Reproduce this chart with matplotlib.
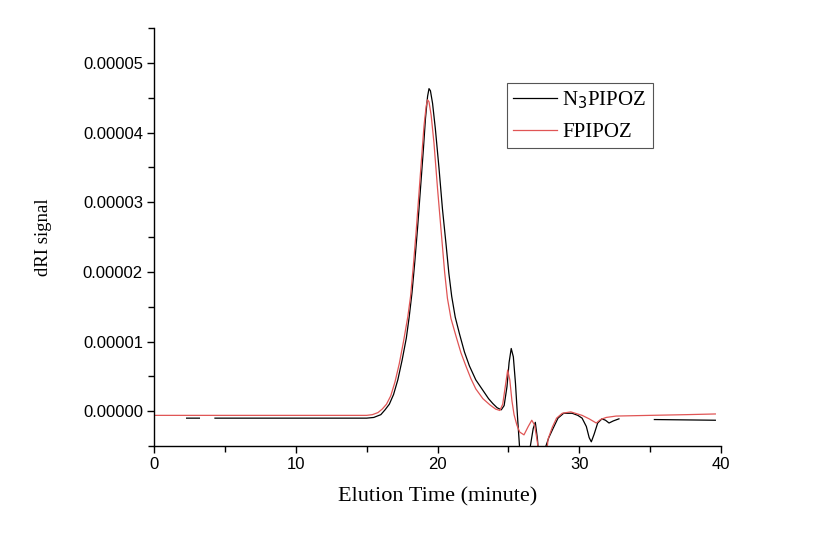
import numpy as np
import matplotlib
matplotlib.use("Agg")
import matplotlib.pyplot as plt
from matplotlib.ticker import MultipleLocator, FormatStrFormatter

# elution time (minute) and dRI signal (x1e-5)
t_n3 = [2.3, 3.2, np.nan, 4.3, 8.0, 12.0, 14.0, 15.0, 15.5, 16.0, 16.3, 16.6, 16.9, 17.2,
        17.5, 17.8, 18.0, 18.2, 18.4, 18.6, 18.8, 19.0, 19.15, 19.3, 19.4, 19.5, 19.65,
        19.85, 20.1, 20.35, 20.6, 20.8, 21.0, 21.25, 21.55, 21.9, 22.25, 22.7, 23.2, 23.6,
        23.9, 24.2, 24.5, 24.7, 24.9, 25.05, 25.2, 25.35, 25.5, 25.65, 25.85, 26.3, 26.55,
        26.75, 26.9, 27.05, 27.2, 27.5, 27.65, 27.85, 28.1, 28.5, 28.9, 29.5, 29.9, 30.2,
        30.5, 30.7, 30.85, 31.05, 31.3, 31.6, 31.85, 32.1, 32.4, 32.8, np.nan, 35.3, 39.6]
s_n3 = [-0.10, -0.10, np.nan, -0.10, -0.10, -0.10, -0.10, -0.10, -0.09, -0.05, 0.02, 0.10,
        0.24, 0.45, 0.73, 1.05, 1.35, 1.70, 2.15, 2.65, 3.20, 3.75, 4.20, 4.52, 4.63, 4.60,
        4.42, 4.05, 3.50, 2.90, 2.40, 1.98, 1.65, 1.35, 1.11, 0.85, 0.65, 0.45, 0.30, 0.18,
        0.11, 0.05, 0.02, 0.08, 0.35, 0.70, 0.90, 0.78, 0.40, -0.10, -0.70, -0.90, -0.50,
        -0.25, -0.16, -0.40, -0.80, -0.80, -0.50, -0.38, -0.27, -0.10, -0.03, -0.03, -0.06,
        -0.10, -0.22, -0.38, -0.44, -0.33, -0.17, -0.11, -0.13, -0.17, -0.14, -0.11, np.nan,
        -0.12, -0.13]

t_f = [0.0, 5.0, 10.0, 14.0, 15.0, 15.4, 15.8, 16.1, 16.4, 16.7, 17.0, 17.3, 17.6, 17.9,
       18.1, 18.3, 18.5, 18.7, 18.9, 19.05, 19.2, 19.3, 19.4, 19.55, 19.75, 20.0, 20.25,
       20.5, 20.7, 20.95, 21.3, 21.65, 22.0, 22.35, 22.7, 23.2, 23.7, 24.1, 24.4, 24.6,
       24.8, 24.95, 25.1, 25.25, 25.4, 25.6, 25.8, 26.1, 26.4, 26.65, 26.85, 27.05, 27.25,
       27.6, 27.8, 28.1, 28.4, 28.8, 29.4, 30.2, 30.7, 31.2, 31.5, 31.9, 32.6, 35.0, 37.5,
       39.6]
s_f = [-0.06, -0.06, -0.06, -0.06, -0.06, -0.05, -0.02, 0.03, 0.10, 0.22, 0.42, 0.68, 1.00,
       1.35, 1.65, 2.10, 2.60, 3.15, 3.70, 4.10, 4.38, 4.47, 4.44, 4.25, 3.85, 3.20, 2.60,
       2.00, 1.62, 1.33, 1.08, 0.84, 0.65, 0.47, 0.32, 0.18, 0.09, 0.03, 0.01, 0.10, 0.38,
       0.59, 0.45, 0.15, -0.05, -0.20, -0.30, -0.34, -0.22, -0.13, -0.20, -0.45, -0.80,
       -0.80, -0.40, -0.23, -0.10, -0.03, -0.01, -0.06, -0.11, -0.17, -0.12, -0.09, -0.07,
       -0.06, -0.05, -0.04]

t_n3 = np.array(t_n3)
s_n3 = np.array(s_n3) * 1e-5
t_f = np.array(t_f)
s_f = np.array(s_f) * 1e-5

serif = "Liberation Serif"
sans = "Liberation Sans"

fig = plt.figure(figsize=(8.21, 5.33), dpi=100)
ax = fig.add_axes([0.1876, 0.1632, 0.6906, 0.7842])

ax.plot(t_n3, s_n3, color="black", lw=0.9, label="N$_3$PIPOZ")
ax.plot(t_f, s_f, color="#e05555", lw=0.9, label="FPIPOZ")

ax.set_xlim(0, 40)
ax.set_ylim(-0.000005, 0.000055)
ax.xaxis.set_major_locator(MultipleLocator(10))
ax.xaxis.set_minor_locator(MultipleLocator(5))
ax.yaxis.set_major_locator(MultipleLocator(0.00001))
ax.yaxis.set_minor_locator(MultipleLocator(0.000005))
ax.yaxis.set_major_formatter(FormatStrFormatter("%.5f"))

for side in ["top", "right"]:
    ax.spines[side].set_visible(False)
for side in ["left", "bottom"]:
    ax.spines[side].set_linewidth(1.0)

ax.tick_params(which="major", direction="out", length=5, width=1.0, pad=3)
ax.tick_params(which="minor", direction="out", length=4, width=1.0)
for lab in ax.get_xticklabels() + ax.get_yticklabels():
    lab.set_fontfamily(sans)
    lab.set_fontsize(12)

ax.set_xlabel("Elution Time (minute)", fontfamily=serif, fontsize=16)
ax.set_ylabel("dRI signal", fontfamily=serif, fontsize=13.5)
ax.xaxis.set_label_coords(0.5, -0.098)
ax.yaxis.set_label_coords(-0.18, 0.5)

leg = ax.legend(loc="upper left", bbox_to_anchor=(0.623, 0.868), fancybox=False,
                prop={"family": serif, "size": 15}, handlelength=2.1, handletextpad=0.25,
                borderpad=0.3, labelspacing=0.55, borderaxespad=0, framealpha=1)
leg.get_frame().set_edgecolor("#555555")
leg.get_frame().set_linewidth(0.8)

fig.savefig("out.png", dpi=100)
